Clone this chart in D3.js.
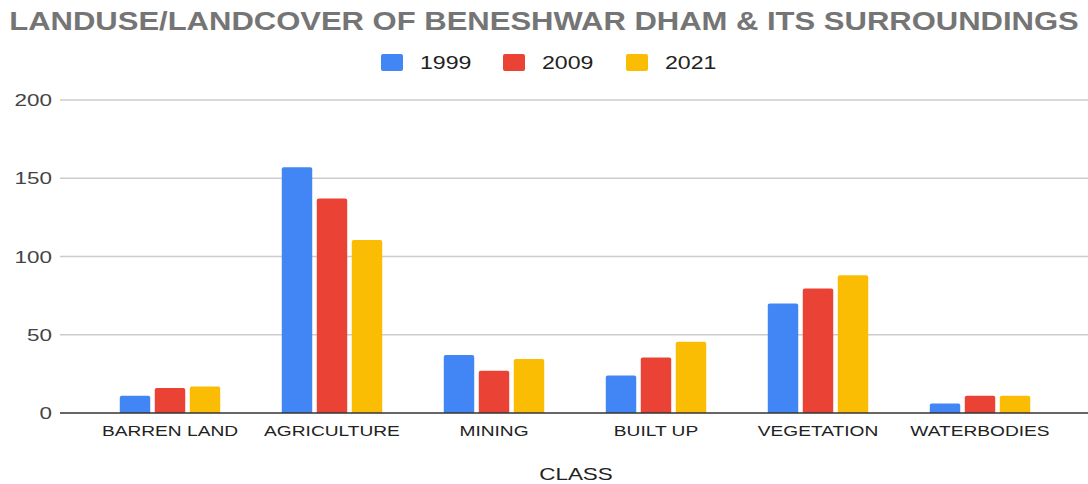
<!DOCTYPE html>
<html>
<head>
<meta charset="utf-8">
<script src="https://cdn.jsdelivr.net/npm/d3@7"></script>
<style>
  body { margin: 0; background: #fff; }
  svg { display: block; font-family: "Liberation Sans", Arial, sans-serif; }
</style>
</head>
<body>
<div id="chart"></div>
<script>
// data
const classes = ["BARREN LAND", "AGRICULTURE", "MINING", "BUILT UP", "VEGETATION", "WATERBODIES"];
const years = ["1999", "2009", "2021"];
const v1999 = [11, 157, 37, 24, 70, 6];
const v2009 = [16, 137, 27, 35.5, 79.5, 11];
const v2021 = [17, 110.5, 34.5, 45.5, 88, 11];
const yTicks = [0, 50, 100, 150, 200];
const colors = ["#4285f4", "#ea4335", "#fbbc04"];

const series = [v1999, v2009, v2021];
const width = 1088, height = 484;
const margin = { top: 100, left: 60, bottom: 71, right: 0 };
const xs = 1.32; // text in the picture is stretched sideways

const svg = d3.select("#chart").append("svg")
    .attr("width", width)
    .attr("height", height);

// stretch a text horizontally by the factor
function stretch(sel, k) {
    sel.each(function () {
        const w = this.getComputedTextLength();
        d3.select(this).attr("textLength", w * k).attr("lengthAdjust", "spacingAndGlyphs");
    });
}

const x = d3.scaleBand().domain(classes).range([89, 1061]).paddingInner(0.38).paddingOuter(0.19);
const xIn = d3.scaleBand().domain(years).range([0, x.bandwidth()]).paddingInner(0.13);
const y = d3.scaleLinear().domain([0, 200]).range([height - margin.bottom, margin.top]);

// gridlines
svg.append("g")
    .selectAll("line")
    .data(yTicks.filter(d => d > 0))
    .join("line")
    .attr("x1", margin.left)
    .attr("x2", width - margin.right)
    .attr("y1", d => y(d))
    .attr("y2", d => y(d))
    .attr("stroke", "#cccccc")
    .attr("stroke-width", 1.3);

// y labels
svg.append("g")
    .selectAll("text")
    .data(yTicks)
    .join("text")
    .attr("x", 52)
    .attr("y", d => y(d) + 6)
    .attr("text-anchor", "end")
    .attr("fill", "#444")
    .style("font-size", "17px")
    .text(d => d)
    .call(stretch, xs);

// bars with rounded tops
const r = 2;
function barPath(x0, w, yTop, yBase) {
    return `M${x0},${yBase}V${yTop + r}Q${x0},${yTop} ${x0 + r},${yTop}H${x0 + w - r}Q${x0 + w},${yTop} ${x0 + w},${yTop + r}V${yBase}Z`;
}

const groups = svg.append("g")
    .selectAll("g")
    .data(classes)
    .join("g")
    .attr("transform", d => `translate(${x(d)},0)`);

groups.selectAll("path")
    .data((c, i) => years.map((yr, j) => ({ yr, j, v: series[j][i] })))
    .join("path")
    .attr("d", d => barPath(xIn(d.yr), xIn.bandwidth(), y(d.v), y(0)))
    .attr("fill", d => colors[d.j]);

// baseline
svg.append("line")
    .attr("x1", margin.left)
    .attr("x2", width - margin.right)
    .attr("y1", y(0))
    .attr("y2", y(0))
    .attr("stroke", "#333")
    .attr("stroke-width", 1.5);

// x labels
svg.append("g")
    .selectAll("text")
    .data(classes)
    .join("text")
    .attr("x", d => x(d) + x.bandwidth() / 2)
    .attr("y", 436)
    .attr("text-anchor", "middle")
    .attr("fill", "#222")
    .style("font-size", "14.5px")
    .text(d => d)
    .call(stretch, xs);

// axis title
svg.append("text")
    .attr("x", 576)
    .attr("y", 480)
    .attr("text-anchor", "middle")
    .attr("fill", "#222")
    .style("font-size", "17px")
    .text("CLASS")
    .call(stretch, xs);

// title
svg.append("text")
    .attr("x", width / 2)
    .attr("y", 30)
    .attr("text-anchor", "middle")
    .attr("fill", "#757575")
    .style("font-size", "25px")
    .style("font-weight", "bold")
    .text("LANDUSE/LANDCOVER OF BENESHWAR DHAM & ITS SURROUNDINGS")
    .call(stretch, 1.24);

// legend
const legendX = [381, 503, 626];
const legend = svg.append("g")
    .selectAll("g")
    .data(years)
    .join("g")
    .attr("transform", (d, i) => `translate(${legendX[i]},54)`);

legend.append("rect")
    .attr("width", 22)
    .attr("height", 17)
    .attr("rx", 2)
    .attr("fill", (d, i) => colors[i]);

legend.append("text")
    .attr("x", 39)
    .attr("y", 15)
    .attr("fill", "#222")
    .style("font-size", "17.5px")
    .text(d => d)
    .call(stretch, xs);
</script>
</body>
</html>
